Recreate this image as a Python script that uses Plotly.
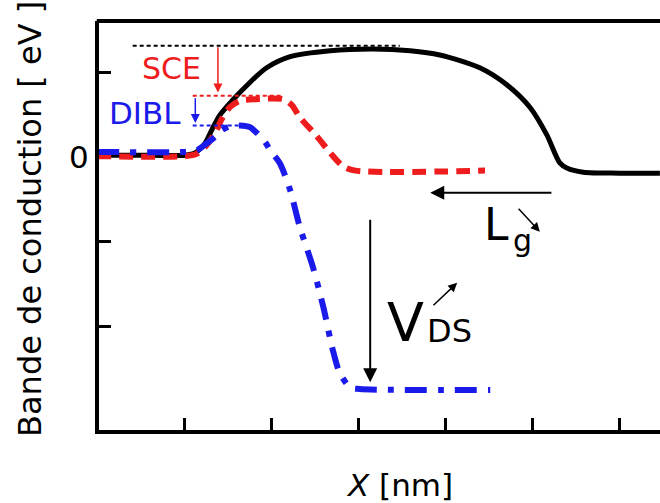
import plotly.graph_objects as go

# ---- data (x in tick units, y in eV-like units) ----
black_x = [0.0, 0.61, 1.01, 1.13, 1.24, 1.32, 1.41, 1.56, 1.76, 1.95, 2.22, 2.68, 3.17, 3.60, 3.94, 4.40, 4.71, 4.98, 5.17, 5.32, 5.40, 5.59, 6.01, 6.47]
black_y = [0.02, 0.02, 0.02, 0.05, 0.16, 0.32, 0.49, 0.67, 0.88, 1.05, 1.18, 1.25, 1.27, 1.25, 1.20, 1.05, 0.85, 0.58, 0.26, -0.07, -0.13, -0.18, -0.19, -0.19]

red_x = [0.0, 1.01, 1.15, 1.26, 1.36, 1.44, 1.53, 1.64, 1.82, 2.14, 2.24, 2.33, 2.53, 2.68, 2.83, 2.97, 4.46]
red_y = [0.01, 0.01, 0.04, 0.14, 0.29, 0.46, 0.59, 0.66, 0.68, 0.68, 0.61, 0.47, 0.24, 0.05, -0.11, -0.16, -0.16]

blue_x = [0.0, 1.01, 1.15, 1.26, 1.36, 1.44, 1.53, 1.64, 1.76, 1.84, 1.93, 1.99, 2.10, 2.22, 2.33, 2.48, 2.60, 2.71, 2.79, 2.91, 3.02, 4.52]
blue_y = [0.06, 0.06, 0.08, 0.16, 0.24, 0.32, 0.36, 0.37, 0.35, 0.28, 0.18, 0.08, -0.07, -0.39, -0.82, -1.29, -1.76, -2.27, -2.54, -2.71, -2.73, -2.74]

x_ticks = [1, 2, 3, 4, 5, 6]
y_ticks = [-2, -1, 0, 1]
y_ticktext = ["", "", "0", ""]

# reference levels (dotted guides): x0, x1, y
sce_level = [0.41, 3.48, 1.31]
sce_low = [1.10, 2.14, 0.72]
dibl_low = [1.10, 1.64, 0.37]

BLACK = "#000000"
RED = "#ee1c1c"
BLUE = "#1a1aeb"
FONT = "DejaVu Sans"

fig = go.Figure()
fig.add_trace(go.Scatter(x=black_x, y=black_y, mode="lines", hoverinfo="skip",
                         line=dict(color=BLACK, width=5, shape="spline", smoothing=0.8)))
fig.add_trace(go.Scatter(x=red_x, y=red_y, mode="lines", hoverinfo="skip",
                         line=dict(color=RED, width=6, dash="14px,8px", shape="spline", smoothing=0.8)))
fig.add_trace(go.Scatter(x=blue_x, y=blue_y, mode="lines", hoverinfo="skip",
                         line=dict(color=BLUE, width=6, dash="22px,11px,6px,11px", shape="spline", smoothing=0.8)))

shapes = []
for lvl, col in [(sce_level, BLACK), (sce_low, RED), (dibl_low, BLUE)]:
    shapes.append(dict(type="line", xref="x", yref="y", x0=lvl[0], x1=lvl[1], y0=lvl[2], y1=lvl[2],
                       line=dict(color=col, width=2, dash="4px,3px")))
# top frame line
shapes.append(dict(type="line", xref="paper", yref="paper", x0=-0.004, x1=1, y0=1, y1=1,
                   line=dict(color=BLACK, width=4)))

annotations = []

def arrow(x, y, ax, ay, color, width, size, head=2):
    annotations.append(dict(x=x, y=y, ax=ax, ay=ay, xref="x", yref="y", axref="x", ayref="y",
                            text="", showarrow=True, arrowhead=head, arrowsize=size,
                            arrowwidth=width, arrowcolor=color))

arrow(1.39, 0.76, 1.39, 1.31, RED, 1.5, 1.2)
arrow(1.13, 0.40, 1.13, 0.71, BLUE, 1.5, 1.2)
arrow(3.83, -0.42, 5.24, -0.42, BLACK, 2, 1.4)
arrow(5.09, -0.88, 4.83, -0.59, BLACK, 1.5, 1.2)
arrow(3.14, -2.65, 3.14, -0.72, BLACK, 2, 1.4)
arrow(4.14, -1.48, 3.85, -1.76, BLACK, 1.5, 1.2)

def text(x, y, s, size, color=BLACK, xanchor="center", yanchor="middle"):
    annotations.append(dict(x=x, y=y, xref="x", yref="y", text=s, showarrow=False,
                            font=dict(family=FONT, size=size, color=color),
                            xanchor=xanchor, yanchor=yanchor))

text(0.86, 1.04, "SCE", 30, RED)
text(0.55, 0.52, "DIBL", 31, BLUE)
text(4.59, -0.79, "L", 44)
text(4.885, -0.98, "g", 30)
text(3.55, -1.95, "V", 54)
text(4.05, -2.05, "DS", 32)

annotations.append(dict(x=-0.123, y=0.516, xref="paper", yref="paper", text="Bande de conduction [ eV ]",
                        textangle=-90, showarrow=False, font=dict(family=FONT, size=32, color=BLACK),
                        xanchor="center", yanchor="middle"))
annotations.append(dict(x=0.5365, y=-0.134, xref="paper", yref="paper", text="<i>X</i> [nm]",
                        showarrow=False, font=dict(family=FONT, size=31, color=BLACK),
                        xanchor="center", yanchor="middle"))

fig.update_layout(
    width=660, height=503,
    margin=dict(l=99, r=0, t=21, b=73),
    paper_bgcolor="white", plot_bgcolor="white",
    showlegend=False, hovermode=False,
    shapes=shapes, annotations=annotations,
    xaxis=dict(range=[0.023, 6.471], showline=True, linewidth=4, linecolor=BLACK,
               ticks="inside", ticklen=12, tickwidth=3, tickcolor=BLACK,
               tickvals=x_ticks, showticklabels=False, showgrid=False, zeroline=False,
               layer="below traces"),
    yaxis=dict(range=[-3.212, 1.6], showline=True, linewidth=4, linecolor=BLACK,
               ticks="inside", ticklen=12, tickwidth=3, tickcolor=BLACK,
               tickvals=y_ticks, ticktext=y_ticktext, tickfont=dict(family=FONT, size=31, color=BLACK),
               showgrid=False, zeroline=False, layer="below traces"),
)

fig.write_html("out.html", config={"displayModeBar": False},
               post_script="document.body.style.margin='0';document.body.style.overflow='hidden';")
